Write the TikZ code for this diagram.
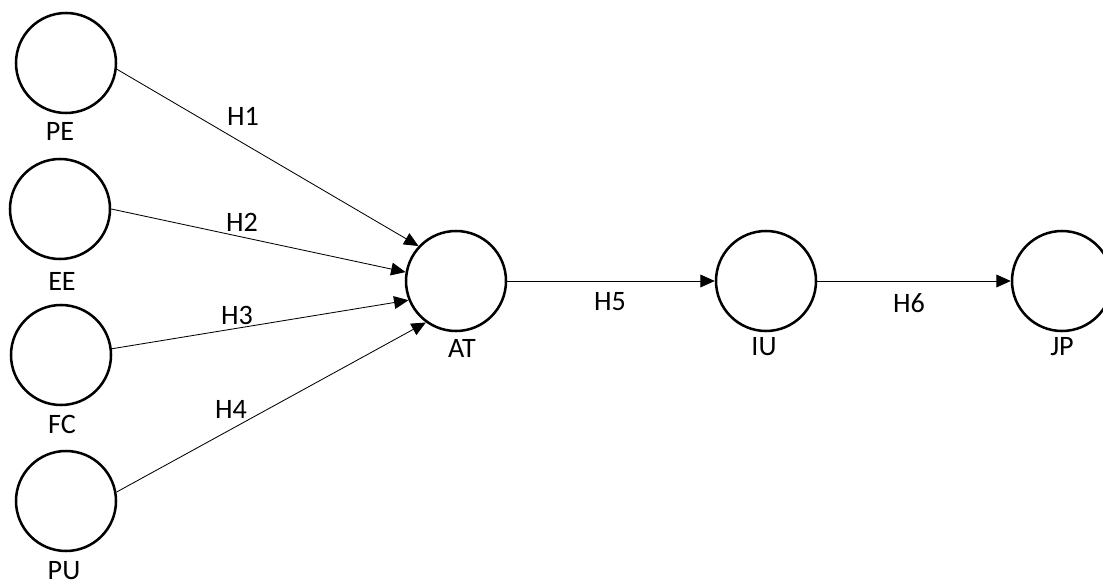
\documentclass[tikz,border=0pt]{standalone}
\usepackage{fontspec}
\setmainfont{Carlito}
\usetikzlibrary{arrows.meta, positioning}
\tikzset{
  construct/.style={draw=black, circle, line width=1.8pt, minimum size=2.5cm, inner sep=0pt, fill=white},
  path arrow/.style={-{Triangle[length=3.6mm, width=3.2mm]}, line width=0.6pt, draw=black}
}

\begin{document}
\begin{tikzpicture}[
  cname/.style={anchor=base, inner sep=0pt, font=\fontsize{20}{24}\selectfont},
  hname/.style={anchor=base, inner sep=0pt, font=\fontsize{20}{24}\selectfont}
]
\useasboundingbox (0,0) rectangle (27.575,14.625);

% constructs
\node[construct] (pe) at (1.65,13.05) {};
\node[construct] (ee) at (1.50,9.40) {};
\node[construct] (fc) at (1.525,5.75) {};
\node[construct] (pu) at (1.65,2.10) {};
\node[construct] (at) at (11.40,7.60) {};
\node[construct] (iu) at (19.15,7.60) {};
\node[construct] (jp) at (26.55,7.60) {};

\node[cname] (pe-l) at (1.50,11.10) {PE};
\node[cname] (ee-l) at (1.55,7.375) {EE};
\node[cname] (fc-l) at (1.55,3.80) {FC};
\node[cname] (pu-l) at (1.60,0.13) {PU};
\node[cname] (at-l) at (11.55,5.68) {AT};
\node[cname] (iu-l) at (19.10,5.75) {IU};
\node[cname] (jp-l) at (26.55,5.75) {JP};

% hypotheses
\draw[path arrow] (pe.-7) -- (at.137);
\draw[path arrow] (ee.0) -- (at.170);
\draw[path arrow] (fc.7) -- (at.-158);
\draw[path arrow] (pu.10) -- (at.-126);
\draw[path arrow] (at.0) -- (iu.180);
\draw[path arrow] (iu.0) -- (jp.180);

\node[hname] (h1) at (6.075,11.49) {H1};
\node[hname] (h2) at (6.05,8.84) {H2};
\node[hname] (h3) at (5.925,6.51) {H3};
\node[hname] (h4) at (5.775,4.16) {H4};
\node[hname] (h5) at (15.25,6.86) {H5};
\node[hname] (h6) at (22.725,6.81) {H6};
\end{tikzpicture}
\end{document}
